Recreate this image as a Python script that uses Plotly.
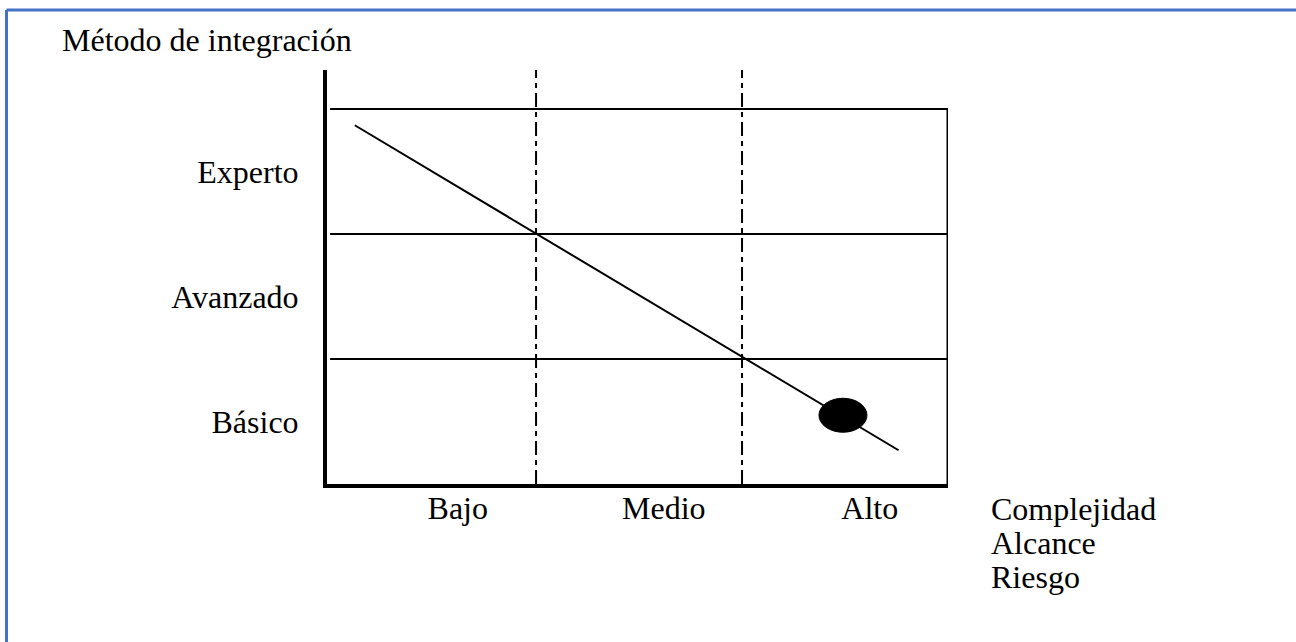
import plotly.graph_objects as go

# --- data ---
title_text = 'Método de integración'
levels = ['Básico', 'Avanzado', 'Experto']          # y categories (bottom -> top)
impact = ['Bajo', 'Medio', 'Alto']                    # x categories (left -> right)
factors = ['Complejidad', 'Alcance', 'Riesgo']        # x-axis caption lines
trend_x = [0.12, 2.76]
trend_y = [2.87, 0.27]
project_x = [2.49]
project_y = [0.55]

FONT = 'Liberation Serif'
W, H = 1296, 642
M_L, M_R, M_T, M_B = 327, 348, 70, 158
X_RANGE = [-0.015, 3.0]
Y_RANGE = [0, 3.312]
TOP = Y_RANGE[1]


def px_to_paper(px, py):
    """Convert page pixels to paper coordinates of the plot area"""
    pw = W - M_L - M_R
    ph = H - M_T - M_B
    return (px - M_L) / pw, (H - M_B - py) / ph


def solid(xs, ys, width=2):
    return go.Scatter(x=xs, y=ys, mode='lines', hoverinfo='skip',
                      line=dict(color='black', width=width))


traces = []
n = len(levels)
# row separators
for k in range(1, n + 1):
    traces.append(solid([0, len(impact)], [k, k]))
# right border of the grid
traces.append(solid([len(impact), len(impact)], [0, n], width=3))
# dash-dot column separators
for k in range(1, len(impact)):
    traces.append(go.Scatter(x=[k, k], y=[0, TOP], mode='lines', hoverinfo='skip',
                             line=dict(color='black', width=2, dash='14px,5px,5px,5px')))
# trend line
traces.append(solid(trend_x, trend_y))

fig = go.Figure(traces)

# project marker (ellipse)
fig.add_shape(type='circle', xref='x', yref='y', xsizemode='pixel', ysizemode='pixel',
              xanchor=project_x[0], yanchor=project_y[0], x0=-24, x1=24, y0=-17, y1=17,
              fillcolor='black', line=dict(color='black', width=1))

# blue page frame
fx0, fy0 = px_to_paper(6.5, 10)
fx1, fy1 = px_to_paper(W + 5, H + 5)
fig.add_shape(type='line', xref='paper', yref='paper', x0=fx0, x1=fx1, y0=fy0, y1=fy0,
              line=dict(color='#4472c4', width=3))
fig.add_shape(type='line', xref='paper', yref='paper', x0=fx0, x1=fx0, y0=fy0, y1=fy1,
              line=dict(color='#4472c4', width=3))

# caption lines to the right of the x axis
for i, txt in enumerate(factors):
    cx, cy = px_to_paper(989, 509 + 34 * i)
    fig.add_annotation(text=txt, xref='paper', yref='paper', x=cx, y=cy,
                       xanchor='left', yanchor='middle', showarrow=False,
                       font=dict(family=FONT, size=32, color='black'))

fig.update_layout(
    width=W, height=H,
    margin=dict(l=M_L, r=M_R, t=M_T, b=M_B),
    plot_bgcolor='white', paper_bgcolor='white',
    showlegend=False,
    font=dict(family=FONT, size=32, color='black'),
    title=dict(text=title_text, xref='container', yref='container',
               x=62 / W, y=1 - 40 / H, xanchor='left', yanchor='middle',
               font=dict(family=FONT, size=32, color='black')),
    xaxis=dict(range=X_RANGE, showgrid=False, zeroline=False, showline=True,
               linecolor='black', linewidth=4, ticks='',
               tickvals=[i + 0.62 for i in range(len(impact))], ticktext=impact,
               ticklabelstandoff=-7),
    yaxis=dict(range=Y_RANGE, showgrid=False, zeroline=False, showline=True,
               linecolor='black', linewidth=4, ticks='',
               tickvals=[i + 0.5 for i in range(n)], ticktext=levels,
               ticklabelstandoff=18),
)

# drop the default body margin so the figure sits at the page origin
fig.write_html('out.html', config={'displayModeBar': False},
               post_script="document.body.style.margin='0';")
